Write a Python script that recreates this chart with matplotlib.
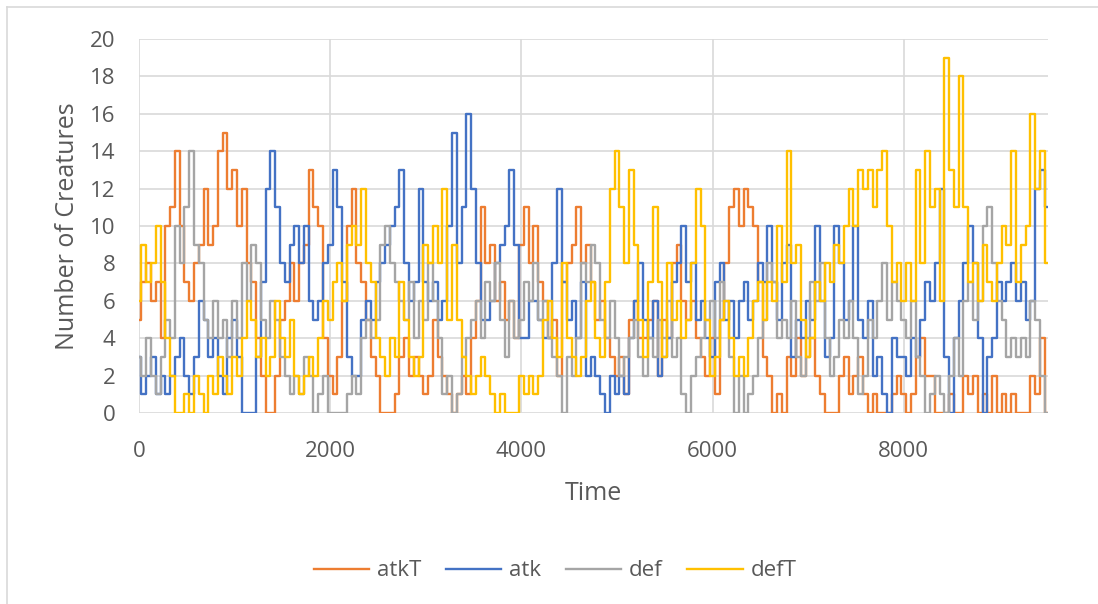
import matplotlib.pyplot as plt
import numpy as np

# time axis, one value every 50 steps
t = np.arange(0, 9501, 50)

atkT = [5, 7, 8, 6, 7, 4, 10, 11, 14, 10,
        7, 6, 8, 9, 12, 9, 10, 14, 15, 12,
        13, 10, 12, 8, 7, 4, 2, 0, 0, 2,
        5, 6, 8, 6, 8, 9, 13, 11, 10, 4,
        2, 1, 3, 6, 10, 12, 8, 7, 5, 3,
        2, 0, 0, 0, 1, 3, 4, 2, 3, 2,
        1, 2, 5, 3, 2, 1, 0, 1, 2, 1,
        4, 6, 11, 8, 9, 6, 7, 5, 6, 4,
        9, 11, 8, 10, 7, 6, 4, 5, 2, 7,
        8, 9, 11, 8, 9, 7, 5, 6, 4, 3,
        2, 3, 1, 5, 6, 4, 4, 5, 6, 2,
        5, 4, 8, 9, 6, 5, 6, 4, 3, 2,
        4, 1, 5, 8, 11, 12, 10, 12, 11, 10,
        7, 3, 2, 0, 1, 0, 3, 2, 4, 2,
        3, 4, 2, 1, 0, 0, 0, 2, 3, 1,
        2, 3, 1, 0, 1, 0, 0, 0, 1, 2,
        1, 0, 1, 3, 4, 2, 2, 0, 0, 0,
        1, 0, 0, 2, 1, 2, 0, 1, 0, 2,
        0, 1, 0, 1, 0, 0, 0, 2, 1, 4, 0]

atk = [3, 1, 2, 3, 1, 2, 1, 2, 3, 4,
       2, 1, 3, 6, 5, 3, 4, 2, 1, 4,
       5, 3, 0, 0, 0, 3, 7, 12, 14, 11,
       8, 7, 9, 10, 8, 10, 6, 5, 6, 8,
       9, 13, 11, 7, 3, 2, 2, 5, 6, 5,
       7, 8, 9, 10, 11, 13, 8, 6, 7, 12,
       7, 6, 7, 5, 6, 10, 15, 8, 11, 16,
       12, 8, 5, 5, 6, 8, 9, 10, 13, 9,
       4, 4, 6, 6, 5, 4, 4, 8, 12, 7,
       5, 6, 4, 7, 2, 3, 2, 1, 0, 2,
       1, 2, 1, 4, 6, 8, 5, 4, 6, 2,
       3, 4, 7, 8, 10, 7, 8, 5, 6, 4,
       3, 7, 8, 5, 6, 4, 6, 7, 5, 6,
       8, 7, 10, 7, 5, 8, 9, 3, 5, 4,
       6, 5, 10, 6, 3, 4, 10, 8, 5, 6,
       10, 5, 4, 6, 2, 3, 1, 0, 4, 3,
       3, 2, 4, 3, 5, 7, 6, 8, 12, 3,
       0, 4, 6, 8, 10, 8, 4, 0, 3, 4,
       7, 6, 7, 8, 6, 7, 5, 6, 12, 13, 11]

defn = [3, 2, 4, 2, 1, 3, 5, 4, 10, 8,
        11, 14, 9, 8, 5, 4, 6, 4, 5, 3,
        6, 4, 8, 6, 9, 8, 5, 4, 6, 5,
        3, 2, 1, 2, 1, 3, 2, 0, 1, 2,
        0, 0, 0, 0, 1, 2, 1, 4, 5, 4,
        5, 9, 10, 8, 7, 6, 5, 7, 4, 6,
        5, 8, 6, 4, 1, 2, 0, 1, 3, 4,
        5, 6, 4, 7, 6, 8, 5, 3, 6, 4,
        5, 7, 6, 8, 5, 6, 4, 3, 2, 0,
        3, 2, 4, 8, 7, 9, 8, 5, 4, 6,
        4, 2, 3, 4, 5, 3, 2, 4, 3, 5,
        4, 6, 3, 4, 1, 0, 2, 3, 4, 5,
        6, 4, 7, 6, 3, 0, 2, 0, 1, 2,
        4, 5, 8, 7, 4, 5, 4, 6, 3, 2,
        4, 7, 6, 8, 4, 2, 3, 5, 4, 6,
        4, 1, 2, 5, 4, 6, 8, 5, 7, 6,
        5, 4, 6, 3, 2, 0, 1, 2, 1, 0,
        2, 4, 2, 6, 7, 5, 6, 10, 11, 8,
        6, 5, 3, 4, 3, 4, 3, 6, 5, 2, 0]

defT = [6, 9, 7, 8, 10, 7, 4, 2, 0, 0,
        1, 0, 2, 1, 0, 2, 1, 3, 2, 1,
        3, 2, 4, 6, 5, 3, 4, 2, 3, 6,
        4, 3, 5, 2, 1, 2, 3, 2, 4, 6,
        5, 7, 8, 6, 9, 10, 9, 12, 8, 7,
        4, 3, 2, 4, 3, 7, 5, 3, 2, 3,
        9, 8, 10, 8, 12, 5, 9, 5, 3, 2,
        1, 2, 3, 2, 1, 0, 1, 0, 0, 0,
        2, 1, 2, 1, 2, 5, 6, 4, 3, 8,
        4, 3, 2, 3, 6, 7, 4, 3, 7, 12,
        14, 11, 8, 13, 9, 5, 3, 7, 11, 7,
        3, 8, 5, 6, 4, 5, 8, 12, 10, 5,
        2, 3, 5, 6, 4, 2, 3, 2, 4, 6,
        7, 5, 7, 6, 10, 7, 14, 8, 9, 5,
        3, 4, 7, 6, 8, 7, 9, 8, 10, 12,
        10, 13, 12, 13, 11, 13, 14, 10, 7, 8,
        6, 8, 6, 13, 8, 14, 11, 12, 6, 19,
        13, 11, 18, 11, 7, 8, 6, 9, 7, 6,
        8, 10, 9, 14, 7, 9, 10, 16, 12, 14, 8]

series = [("atkT", atkT, "#ED7D31"),
          ("atk", atk, "#4472C4"),
          ("def", defn, "#A5A5A5"),
          ("defT", defT, "#FFC000")]

plt.rcParams['font.family'] = ['Open Sans', 'DejaVu Sans']
txt = "#595959"

fig = plt.figure(figsize=(10.98, 6.04), dpi=100)
ax = fig.add_axes([139/1098, 1 - 413/604, (1048 - 139)/1098, (413 - 39)/604])

for name, vals, col in series:
    ax.plot(t, vals, color=col, lw=1.7, label=name, drawstyle="steps-mid")

ax.set_xlim(0, 9510)
ax.set_ylim(0, 20)
ax.set_xticks([0, 2000, 4000, 6000, 8000])
ax.set_yticks(range(0, 21, 2))
ax.grid(True, color="#D9D9D9", lw=1.2)
ax.set_axisbelow(True)
for s in ax.spines.values():
    s.set_visible(False)
ax.tick_params(length=0, labelsize=16, labelcolor=txt)
ax.tick_params(axis="x", pad=20)
ax.tick_params(axis="y", pad=17)

ax.set_xlabel("Time", fontsize=18, color=txt, labelpad=14)
ax.set_ylabel("Number of Creatures", fontsize=18, color=txt, labelpad=7)

fig.legend(loc="center", bbox_to_anchor=(555/1098, 1 - 571/604), ncol=4,
           frameon=False, fontsize=16, labelcolor=txt, handlelength=2.5,
           columnspacing=1.1, handletextpad=0.35)

# chart area border (only top and left are inside the crop)
fig.add_artist(plt.Line2D([7/1098, 7/1098], [0, 1 - 7/604], color="#D9D9D9", lw=1.2,
                          transform=fig.transFigure))
fig.add_artist(plt.Line2D([7/1098, 1], [1 - 7/604, 1 - 7/604], color="#D9D9D9", lw=1.2,
                          transform=fig.transFigure))

fig.savefig("out.png", dpi=100)
